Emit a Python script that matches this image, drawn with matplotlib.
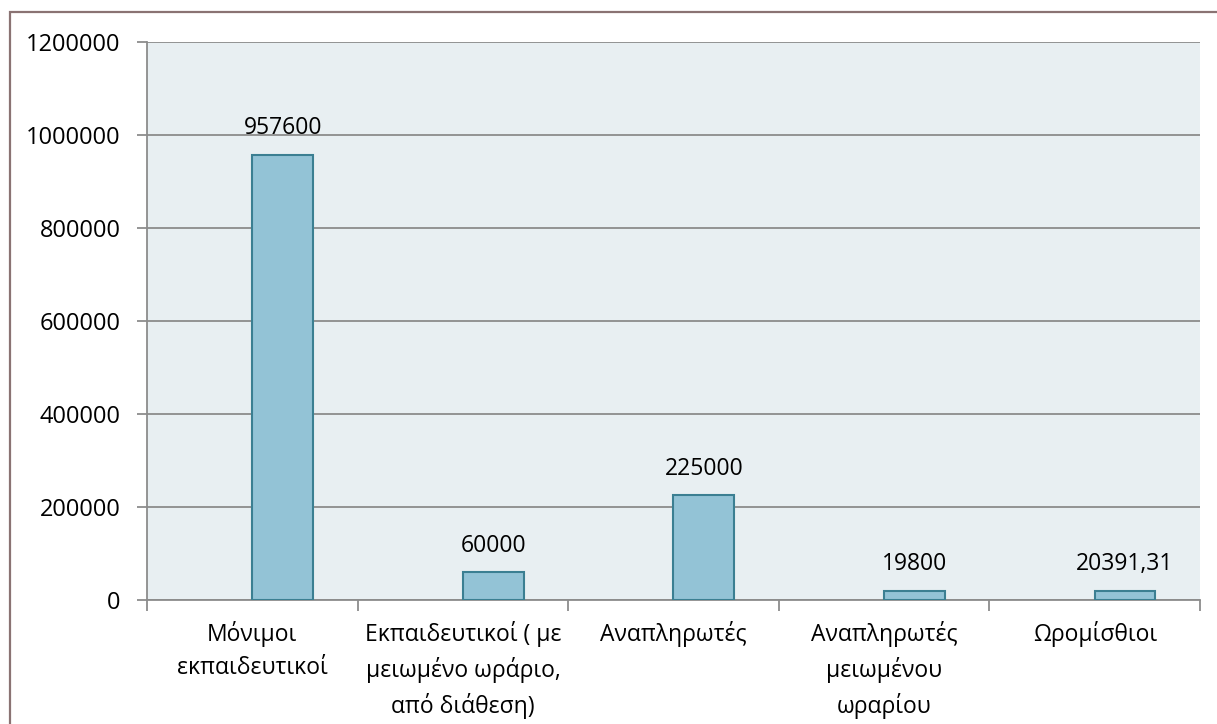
import matplotlib.pyplot as plt
from matplotlib.patches import Rectangle

plt.rcParams['font.family'] = ['Open Sans', 'DejaVu Sans']

categories = ['Μόνιμοι\nεκπαιδευτικοί',
              'Εκπαιδευτικοί ( με\nμειωμένο ωράριο,\nαπό διάθεση)',
              'Αναπληρωτές',
              'Αναπληρωτές\nμειωμένου\nωραρίου',
              'Ωρομίσθιοι']
values = [957600, 60000, 225000, 19800, 20391.31]
value_labels = ['957600', '60000', '225000', '19800', '20391,31']
y_ticks = [0, 200000, 400000, 600000, 800000, 1000000, 1200000]

fig = plt.figure(figsize=(12.17, 7.24), dpi=100)
ax = fig.add_axes([147 / 1217, 1 - 600 / 724, 1053 / 1217, 558 / 724])

# outer chart border (only left and top visible in the crop)
fig.patches.append(Rectangle((9.5 / 1217, -0.1), 1.2, 1 - 12 / 724 + 0.1,
                             transform=fig.transFigure, fill=False,
                             edgecolor='#8a7373', linewidth=1.6))

ax.set_facecolor('#e8eff2')
ax.bar(range(len(values)), values, width=0.288, align='edge',
       color='#93c3d6', edgecolor='#3b7f92', linewidth=1.5, zorder=3)

for i, (v, lab) in enumerate(zip(values, value_labels)):
    ax.text(i + 0.144, v + 31000, lab, ha='center', va='bottom', fontsize=16.5)

ax.set_xlim(-0.5, 4.5)
ax.set_ylim(0, 1200000)
ax.set_yticks(y_ticks)
ax.set_yticklabels([str(t) for t in y_ticks], fontsize=17)
ax.yaxis.grid(True, color='#8c8c8c', linewidth=1.3, zorder=1)

ax.set_xticks([i - 0.5 for i in range(len(values) + 1)])
ax.set_xticklabels([])
ax.set_xticks(range(len(values)), minor=True)
ax.set_xticklabels(categories, minor=True, fontsize=16.5, linespacing=1.5)
ax.tick_params(axis='x', which='minor', length=0, pad=15)
ax.tick_params(axis='x', which='major', length=8, color='#8c8c8c', width=1.3)
ax.tick_params(axis='y', length=7, color='#8c8c8c', width=1.3, pad=12)
for lab in ax.get_xticklabels(minor=True):
    lab.set_verticalalignment('top')

for s in ['top', 'right']:
    ax.spines[s].set_visible(False)
for s in ['left', 'bottom']:
    ax.spines[s].set_color('#8c8c8c')
    ax.spines[s].set_linewidth(1.3)

fig.savefig('out.png', dpi=100)
